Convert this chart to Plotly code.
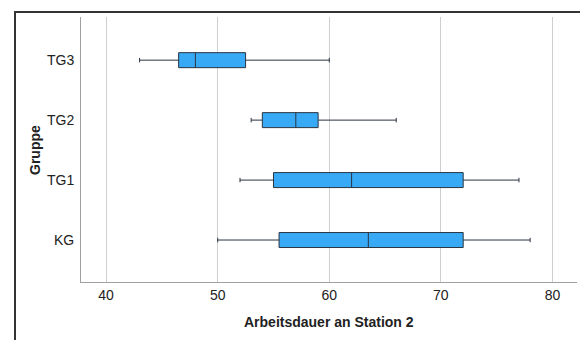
import plotly.graph_objects as go

groups = ["KG", "TG1", "TG2", "TG3"]
lower = [50, 52, 53, 43]
q1 = [55.5, 55, 54, 46.5]
median = [63.5, 62, 57, 48]
q3 = [72, 72, 59, 52.5]
upper = [78, 77, 66, 60]

BOX_W = 0.25

fig = go.Figure()
fig.add_trace(go.Box(
    y=groups, q1=q1, median=median, q3=q3,
    lowerfence=lower, upperfence=upper,
    orientation="h",
    fillcolor="#38aaf5",
    line=dict(color="#2b3440", width=1),
    width=BOX_W,
    whiskerwidth=0.3,
    boxpoints=False,
    hoverinfo="skip",
))

# thicker median lines
for i, m in enumerate(median):
    fig.add_shape(type="line", xref="x", yref="y",
                  x0=m, x1=m, y0=i - BOX_W / 2, y1=i + BOX_W / 2,
                  line=dict(color="#15202c", width=2.2), layer="above")

fig.update_layout(
    width=580, height=340,
    margin=dict(l=81, r=3, t=17, b=58),
    paper_bgcolor="white", plot_bgcolor="white",
    font=dict(family="Liberation Sans, Arial, sans-serif", size=14, color="#222"),
    showlegend=False,
    xaxis=dict(
        range=[37.75, 82.2], tickvals=[40, 50, 60, 70, 80],
        showgrid=True, gridcolor="#cfcfcf", gridwidth=1,
        zeroline=False, showline=True, linecolor="#a0a0a0", linewidth=1,
        ticks="", ticklen=0, automargin=False,
    ),
    yaxis=dict(
        type="category", categoryorder="array", categoryarray=groups,
        range=[-0.7, 3.72],
        showgrid=False, zeroline=False,
        showline=True, linecolor="#a0a0a0", linewidth=1,
        ticks="", ticklabelstandoff=3, automargin=False,
    ),
    annotations=[
        dict(text="<b>Arbeitsdauer an Station 2</b>", xref="paper", yref="paper",
             x=(329 - 81) / 496, y=-(322 - 282) / 265, showarrow=False,
             xanchor="center", yanchor="middle", font=dict(size=14, color="#222")),
        dict(text="<b>Gruppe</b>", xref="paper", yref="paper",
             x=-(81 - 35) / 496, y=(282 - 150) / 265, showarrow=False, textangle=-90,
             xanchor="center", yanchor="middle", font=dict(size=14, color="#222")),
    ],
    shapes=[dict(type="rect", xref="paper", yref="paper",
                 x0=-0.133, x1=1.2, y0=-0.5, y1=1.019,
                 line=dict(color="#333", width=1.5), fillcolor="rgba(0,0,0,0)", layer="above")],
)

fig.write_html("out.html", config={"displayModeBar": False},
               post_script="document.body.style.margin='0';document.body.style.overflow='hidden';")
